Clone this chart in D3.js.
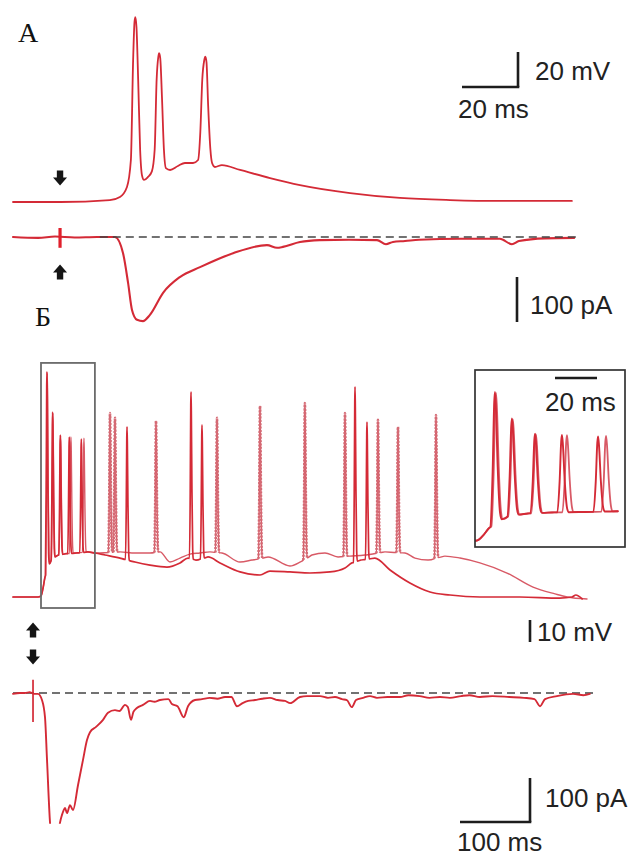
<!DOCTYPE html>
<html>
<head>
<meta charset="utf-8">
<script src="https://cdn.jsdelivr.net/npm/d3@7"></script>
<style>
  body { margin: 0; background: #fff; }
  svg { display: block; }
  .lbl { font-family: "Liberation Serif", "Times New Roman", serif; font-size: 28px; fill: #111; }
  .sb  { font-family: "Liberation Sans", Arial, sans-serif; font-size: 26px; fill: #222; }
</style>
</head>
<body>
<svg id="fig" width="631" height="858"></svg>
<script>
// ---------- Panel А: single evoked response (time in ms) ----------
// membrane potential, mV
const aVoltage = [
  [0,-70],[17,-70],[34.6,-68.9],[38.2,-67.1],[40.7,-61.4],[42.1,-46],[42.9,11],[43.4,33],
  [43.7,35.7],[44.1,30],[44.7,0],[45.4,-40],[46.1,-55],[46.8,-57.4],[48.2,-55.7],[49.6,-52.5],
  [50.6,-40],[51.3,0],[51.9,13],[52.2,15],[52.6,12],[53.2,-10],[53.9,-40],[54.6,-50.6],
  [56.1,-51.7],[58.9,-49.4],[61.4,-47.7],[64.3,-47.7],[66.1,-46],[66.9,-30],[67.6,0],[68.3,11],
  [68.7,13],[69.1,10],[69.7,-15],[70.5,-40],[71.1,-47.7],[72.1,-50],[74.6,-48.9],[81.1,-51.7],
  [91.8,-56.3],[102.5,-60.3],[120.4,-64.9],[138.2,-67.7],[156.1,-68.9],[173.9,-69.4],[199.6,-69.4]
];
// synaptic current, pA
const aCurrent = [
  [0,0],[9,-2],[15,1],[22,-1],[30,0],[36.4,0],[39.3,-36],[41.1,-102],[42.5,-162],[44.3,-184],
  [46.4,-187],[48.9,-173],[53.6,-124],[59.6,-89],[66.8,-67],[78.6,-36],[90.7,-18],[94.3,-24],
  [96.4,-22],[102.5,-11],[109.6,-7],[120,-6],[130,-7],[133.2,-16],[135.7,-11],[140,-9],[145,-6],
  [160,-4],[173.9,-4],[178.2,-16],[180.7,-9],[190,-3],[200.4,-2]
];
const aStimulus = { t: 16.8, hi: 20, lo: -24 };
const aZeroLine = [31, 201.8];
const aScale = { ms: 20, mV: 20, pA: 100 };

// ---------- Panel Б: two sweeps of a long response (time in ms) ----------
// slow membrane potential, mV (spikes are listed separately)
const bBaseEarly = [
  [0,-70],[35.7,-70],[40,-69.5],[42.9,-66],[45.7,-61],[50,-56],[55.7,-52.5],[64.3,-51],
  [75.7,-50.3],[90,-50],[107,-49.5],[117,-50]
];
const bBaseLow = [
  [131.4,-50.9],[152.9,-52.3],[174.3,-54.1],[195.7,-55.5],[220,-56.4],[238.6,-54.5],[250,-52.3],
  [261.4,-53.2],[278.6,-51.8],[295.7,-54.5],[324.3,-58.6],[352.9,-60],[367,-58.2],[395.7,-58.6],
  [424.3,-59.1],[452.9,-58.6],[474.3,-56.8],[484.3,-54.5],[497,-53.2],[517,-52.3],[538.6,-57.7],
  [567,-63.6],[595.7,-67.7],[624.3,-69.1],[667,-70],[724,-70],[781,-70.5],[798.6,-70],[804,-69.1],
  [813,-70.9]
];
const bBaseHigh = [
  [124.3,-50],[152.9,-49.5],[174.3,-50],[195.7,-50],[210,-49.5],[224.3,-54.1],[238.6,-52.3],
  [252.9,-50.5],[267,-50],[281.4,-49.5],[298.6,-50],[324.3,-54.1],[341.4,-53.2],[364.3,-51.8],
  [395.7,-55.9],[410,-54.1],[427,-50.9],[445.7,-50],[464.3,-51.8],[481.4,-51.4],[502.9,-50.9],
  [531.4,-49.5],[560,-50],[574.3,-52.3],[592.9,-53.2],[617,-51.4],[638.6,-52.3],[667,-54.5],
  [705.7,-59.1],[742.9,-65.5],[774.3,-68.6],[791.4,-70],[820,-70.9]
];
// spike times (ms) and peak potentials (mV)
const bSpikesLow = [
  [48.5,32.3],[56.6,14.1],[67.6,3.6],[80.4,2.7],[97.6,1.8],
  [162.9,7.3],[254.3,23.2],[270,8.2],[488.6,25.5],[505.7,9.5]
];
const bSpikesHigh = [
  [49,31.5],[57,13.5],[68,3.2],[82.8,2.7],[101.4,2.2],
  [138.6,13.6],[145.7,11.4],[204.3,10],[291.4,11.4],[352.9,16.8],[417,18.2],[474.3,13.6],
  [521.4,10.5],[550,7.3],[604.3,12.7]
];
// synaptic current, pA (the trough runs off scale)
const bCurrent = [
  [0,-2],[10,0],[17,0],[24,2],[26.5,0],[30,-2],[35.7,-2],[41.4,-16],[45.7,-55],[48.6,-152],
  [52.9,-295],[56,-340],[64,-330],[67.1,-295],[70,-277],[72,-268],[74.3,-261],[77.1,-273],
  [81.4,-255],[85.7,-266],[92.9,-209],[100,-152],[105.7,-107],[110,-89],[118.6,-77],[128.6,-61],
  [135.7,-45],[145.7,-39],[152,-41],[160,-27],[164,-32],[168.6,-61],[172,-43],[177,-34],
  [185.7,-27],[195.7,-18],[202,-20],[210,-16],[222,-14],[227,-25],[235,-30],[244,-55],[250,-30],
  [260,-16],[270,-14],[281,-11],[292,-13],[303,-9],[312,-9],[320,-30],[328,-23],[336,-18],
  [345.7,-16],[356,-13],[367,-11],[378,-16],[388.6,-18],[396,-23],[410,-9],[420,-7],[438.6,-7],
  [450,-11],[460,-9],[470,-14],[477,-16],[484,-32],[490,-16],[500,-11],[510,-7],[520,-11],
  [535,-9],[552.9,-9],[565,-5],[581,-7],[595,-11],[610,-9],[624,-11],[640,-7],[652,-5],[667,-9],
  [685,-7],[709,-9],[730,-11],[745,-14],[752.9,-30],[760,-14],[777,-7],[800,-2],[815,-5],[824,-2]
];
const bStimulus = { t: 28.6, hi: 30, lo: -66 };
const bZeroLine = [0, 830];
const bWindow = { t: [40, 117], mV: [-75, 36.4] };   // region enlarged in the inset
const bScale = { ms: 100, mV: 10, pA: 100, insetMs: 20 };

// action-potential waveform: [ms from peak, fraction of height above local baseline]
const spikeShape = [[-2.2,0],[-1.1,0.4],[-0.35,0.92],[0,1],[0.45,0.88],[1.3,0.42],[2.4,0.06],[3.2,0]];

// ---------- drawing ----------
const svg = d3.select("#fig");
const RED = "#d42a36", RED_LIGHT = "#d85a66";

const xA  = d3.scaleLinear().domain([0, 200]).range([13, 573]);
const yAv = d3.scaleLinear().domain([-70, 30]).range([202, 27]);
const yAi = d3.scaleLinear().domain([0, -200]).range([237, 327]);

const xB  = d3.scaleLinear().domain([0, 800]).range([13, 573]);
const yBv = d3.scaleLinear().domain([-70, 30]).range([597, 377]);
const yBi = d3.scaleLinear().domain([0, -300]).range([693, 825]);

const xIn = d3.scaleLinear().domain([39, 110]).range([475, 624.1]);
const yIn = d3.scaleLinear().domain([-50, 30]).range([512, 395.2]);

function baseline(base) {
  return d3.scaleLinear().domain(base.map(d => d[0])).range(base.map(d => d[1]));
}
function spikePoints(baseAt, s, peak) {
  return spikeShape.map(([dt, f]) => {
    const b = baseAt(s + dt);
    return [s + dt, b + f * (peak - b)];
  });
}
function withSpikes(base, spikes) {
  const baseAt = baseline(base);
  const lo = spikeShape[0][0], hi = spikeShape[spikeShape.length - 1][0];
  const pts = base.filter(([t]) => !spikes.some(([s]) => t > s + lo && t < s + hi));
  spikes.forEach(([s, peak]) => pts.push(...spikePoints(baseAt, s, peak)));
  return pts.sort((p, q) => p[0] - q[0]);
}

const lineOf = (x, y) => d3.line().x(d => x(d[0])).y(d => y(d[1])).curve(d3.curveMonotoneX);

function trace(g, data, x, y, color, width, dash) {
  const p = g.append("path").attr("d", lineOf(x, y)(data))
    .attr("fill", "none").attr("stroke", color).attr("stroke-width", width)
    .attr("stroke-linejoin", "round").attr("stroke-linecap", "round");
  if (dash) p.attr("stroke-dasharray", dash).attr("stroke-linecap", "butt");
  return p;
}

function zeroLine(span, x, y) {
  svg.append("line")
    .attr("x1", x(span[0])).attr("x2", x(span[1])).attr("y1", y(0)).attr("y2", y(0))
    .attr("stroke", "#444").attr("stroke-width", 1.7).attr("stroke-dasharray", "8,5");
}

function arrow(cx, cy, up) {
  const s = up ? -1 : 1;   // +1 points down
  const p = d3.path();
  p.moveTo(cx - 3.2, cy - 7.5 * s);
  p.lineTo(cx + 3.2, cy - 7.5 * s);
  p.lineTo(cx + 3.2, cy - 0.5 * s);
  p.lineTo(cx + 7, cy - 0.5 * s);
  p.lineTo(cx, cy + 7.5 * s);
  p.lineTo(cx - 7, cy - 0.5 * s);
  p.lineTo(cx - 3.2, cy - 0.5 * s);
  p.closePath();
  svg.append("path").attr("d", p.toString()).attr("fill", "#151515");
}

function bar(x1, y1, x2, y2) {
  svg.append("line").attr("x1", x1).attr("y1", y1).attr("x2", x2).attr("y2", y2)
    .attr("stroke", "#1d1d1d").attr("stroke-width", 2.6);
}
function label(cls, x, y, txt) {
  svg.append("text").attr("class", cls).attr("x", x).attr("y", y).text(txt);
}

// ----- Panel А -----
label("lbl", 18, 42, "А");
const gA = svg.append("g");
trace(gA, aVoltage, xA, yAv, RED, 1.8);
zeroLine(aZeroLine, xA, yAi);
trace(gA, aCurrent, xA, yAi, RED, 2.1);
svg.append("line")
  .attr("x1", xA(aStimulus.t)).attr("x2", xA(aStimulus.t))
  .attr("y1", yAi(aStimulus.hi)).attr("y2", yAi(aStimulus.lo))
  .attr("stroke", "#e0202c").attr("stroke-width", 3.2);
arrow(xA(aStimulus.t), 178, false);
arrow(xA(aStimulus.t), 272, true);

// scale bars А
{
  const cx = 518, cy = 87;
  const w = xA(aScale.ms) - xA(0), h = yAv(0) - yAv(aScale.mV);
  bar(cx - w, cy, cx + 1.3, cy);
  bar(cx, cy, cx, cy - h);
  label("sb", 535, 80, aScale.mV + " mV");
  label("sb", 458, 118, aScale.ms + " ms");
  const hi = yAi(-aScale.pA) - yAi(0);
  bar(517, 322, 517, 322 - hi);
  label("sb", 530, 314, aScale.pA + " pA");
}

// ----- Panel Б -----
label("lbl", 35, 326, "Б");
const highBase = bBaseEarly.concat(bBaseHigh);
const lowSweep  = withSpikes(bBaseEarly.concat(bBaseLow), bSpikesLow);
const highSweep = withSpikes(highBase, bSpikesHigh);

const gB = svg.append("g");
trace(gB, highSweep, xB, yBv, RED_LIGHT, 1.4);
// the later sweep's spikes read as a beaded column
{
  const baseAt = baseline(highBase);
  bSpikesHigh.filter(([s]) => s > bWindow.t[1]).forEach(([s, peak]) =>
    trace(gB, spikePoints(baseAt, s, peak), xB, yBv, "#d46a74", 2.6, "2,1.4"));
}
trace(gB, lowSweep, xB, yBv, RED, 1.7);

// enlarged window marker
svg.append("rect")
  .attr("x", xB(bWindow.t[0])).attr("y", yBv(bWindow.mV[1]))
  .attr("width", xB(bWindow.t[1]) - xB(bWindow.t[0]))
  .attr("height", yBv(bWindow.mV[0]) - yBv(bWindow.mV[1]))
  .attr("fill", "none").attr("stroke", "#6b6b6b").attr("stroke-width", 1.8);

// inset
{
  const ix = 475, iy = 370, iw = 150, ih = 177;
  svg.append("clipPath").attr("id", "insetClip")
    .append("rect").attr("x", ix).attr("y", iy).attr("width", iw).attr("height", ih);
  const gi = svg.append("g").attr("clip-path", "url(#insetClip)");
  const win = d => d[0] >= 35 && d[0] <= 115;
  trace(gi, highSweep.filter(win), xIn, yIn, RED_LIGHT, 1.8);
  trace(gi, lowSweep.filter(win), xIn, yIn, RED, 1.9);
  svg.append("rect").attr("x", ix).attr("y", iy).attr("width", iw).attr("height", ih)
    .attr("fill", "none").attr("stroke", "#333").attr("stroke-width", 1.7);
  const w = xIn(bScale.insetMs) - xIn(0);
  bar(555, 378, 555 + w, 378);
  label("sb", 545, 411, bScale.insetMs + " ms");
}

// voltage scale bar
{
  const h = yBv(0) - yBv(bScale.mV);
  bar(530, 642, 530, 642 - h);
  label("sb", 537, 641, bScale.mV + " mV");
}

arrow(xB(bStimulus.t), 630, true);
arrow(xB(bStimulus.t), 657, false);

// current
zeroLine(bZeroLine, xB, yBi);
svg.append("clipPath").attr("id", "curClip")
  .append("rect").attr("x", 0).attr("y", 600).attr("width", 631).attr("height", yBi(-297) - 600);
const gBi = svg.append("g").attr("clip-path", "url(#curClip)");
trace(gBi, bCurrent, xB, yBi, RED, 1.9);
svg.append("line")
  .attr("x1", xB(bStimulus.t)).attr("x2", xB(bStimulus.t))
  .attr("y1", yBi(bStimulus.hi)).attr("y2", yBi(bStimulus.lo))
  .attr("stroke", RED).attr("stroke-width", 1.7);

// time / current scale bars
{
  const cx = 530, cy = 822;
  const w = xB(bScale.ms) - xB(0), h = yBi(-bScale.pA) - yBi(0);
  bar(cx - w, cy, cx + 1.3, cy);
  bar(cx, cy, cx, cy - h);
  label("sb", 545, 807, bScale.pA + " pA");
  label("sb", 457, 851, bScale.ms + " ms");
}
</script>
</body>
</html>
